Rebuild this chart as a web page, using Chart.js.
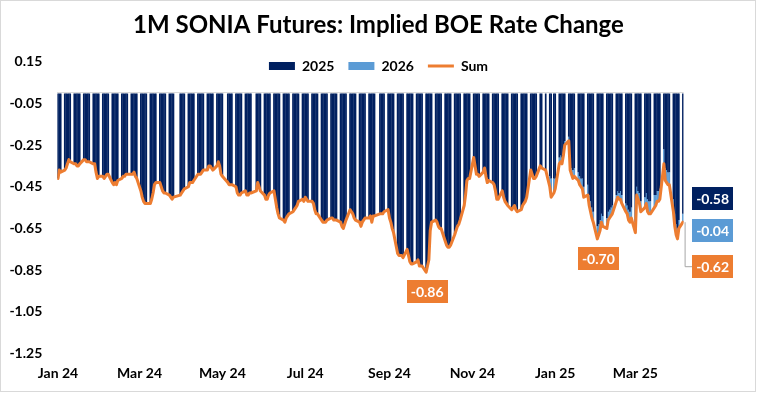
<!DOCTYPE html>
<html><head><meta charset="utf-8">
<script src="https://cdn.jsdelivr.net/npm/chart.js@4.4.1/dist/chart.umd.min.js"></script>
<style>html,body{margin:0;padding:0;background:#fff;}</style>
</head><body>
<canvas id="c" width="757" height="393"></canvas>
<script>
// ---------------- data ----------------
const chartTitle = '1M SONIA Futures: Implied BOE Rate Change';
const seriesNames = ['2025', '2026', 'Sum'];
const axisOrigin = '2024-01-01';
const firstTradingDay = '2024-01-03';
const lastTradingDay = '2025-04-07';
const holidays = ['2024-03-29','2024-04-01','2024-05-06','2024-05-27','2024-08-26','2024-12-25','2024-12-26','2025-01-01'];

// 2025 meetings contribution (one value per trading day)
const values2025 = [
  -0.41,-0.37,-0.38,
  -0.37,-0.36,-0.34,-0.32,-0.33,
  -0.34,-0.34,-0.35,-0.35,-0.34,
  -0.32,-0.32,-0.33,-0.33,-0.33,
  -0.34,-0.34,-0.38,-0.41,-0.40,
  -0.40,-0.41,-0.40,-0.39,-0.39,
  -0.43,-0.44,-0.43,-0.44,-0.42,
  -0.41,-0.40,-0.40,-0.39,-0.39,
  -0.39,-0.39,-0.38,-0.40,-0.41,
  -0.47,-0.50,-0.52,-0.53,-0.53,
  -0.53,-0.51,-0.48,-0.44,-0.43,
  -0.43,-0.45,-0.47,-0.48,-0.48,
  -0.49,-0.50,-0.51,-0.50,
  -0.49,-0.48,-0.47,-0.46,
  -0.45,-0.43,-0.43,-0.43,-0.42,
  -0.39,-0.39,-0.39,-0.38,-0.37,
  -0.37,-0.35,-0.35,-0.36,-0.37,
  -0.35,-0.33,-0.35,-0.39,-0.40,
  -0.43,-0.44,-0.44,-0.44,
  -0.45,-0.48,-0.49,-0.49,-0.48,
  -0.47,-0.49,-0.49,-0.48,-0.48,
  -0.47,-0.43,-0.45,-0.47,
  -0.49,-0.51,-0.51,-0.49,-0.48,
  -0.47,-0.51,-0.55,-0.58,-0.60,
  -0.61,-0.62,-0.60,-0.59,-0.58,
  -0.57,-0.56,-0.55,-0.54,-0.52,
  -0.51,-0.52,-0.50,-0.51,-0.52,
  -0.52,-0.53,-0.56,-0.58,-0.58,
  -0.61,-0.62,-0.62,-0.62,-0.61,
  -0.60,-0.60,-0.61,-0.61,-0.61,
  -0.62,-0.64,-0.65,-0.63,-0.61,
  -0.56,-0.57,-0.58,-0.60,-0.61,
  -0.62,-0.64,-0.62,-0.61,-0.60,
  -0.60,-0.59,-0.62,-0.59,-0.59,
  -0.58,-0.58,-0.58,-0.57,
  -0.56,-0.60,-0.62,-0.65,-0.67,
  -0.77,-0.78,-0.78,-0.78,-0.79,
  -0.75,-0.78,-0.81,-0.82,-0.82,
  -0.81,-0.80,-0.83,-0.83,-0.83,
  -0.86,-0.83,-0.80,-0.66,-0.62,
  -0.61,-0.62,-0.64,-0.65,-0.65,
  -0.71,-0.73,-0.74,-0.74,-0.73,
  -0.68,-0.66,-0.64,-0.63,-0.61,
  -0.54,-0.49,-0.42,-0.41,-0.41,
  -0.31,-0.35,-0.39,-0.39,-0.40,
  -0.38,-0.36,-0.40,-0.43,-0.42,
  -0.43,-0.44,-0.47,-0.51,-0.51,
  -0.47,-0.50,-0.52,-0.53,-0.54,
  -0.56,-0.55,-0.54,-0.56,-0.57,
  -0.56,-0.54,-0.53,-0.52,-0.50,
  -0.37,-0.39,-0.41,-0.41,-0.40,
  -0.35,-0.36,-0.37,
  -0.40,-0.41,-0.41,-0.41,
  -0.31,-0.30,-0.31,-0.27,-0.23,
  -0.21,-0.34,-0.36,-0.37,-0.36,
  -0.38,-0.40,-0.41,-0.41,-0.45,
  -0.44,-0.49,-0.52,-0.55,-0.57,
  -0.64,-0.63,-0.61,-0.58,-0.59,
  -0.60,-0.57,-0.56,-0.55,-0.54,
  -0.49,-0.47,-0.48,-0.47,-0.49,
  -0.53,-0.54,-0.56,-0.57,-0.55,
  -0.62,-0.45,-0.47,-0.48,-0.52,
  -0.50,-0.48,-0.51,-0.52,-0.52,
  -0.49,-0.49,-0.47,-0.47,-0.46,
  -0.27,-0.36,-0.37,-0.38,-0.38,
  -0.51,-0.58,-0.63,-0.65,-0.61,
  -0.58
];

// 2026 meetings contribution, starting on this trading day
const start2026 = '2024-12-30';
const values2026 = [
  -0.05,-0.09,-0.07,-0.05,
  -0.03,-0.03,-0.03,-0.03,-0.02,
  -0.02,-0.03,-0.03,-0.04,-0.04,
  -0.04,-0.04,-0.04,-0.05,-0.05,
  -0.05,-0.05,-0.05,-0.05,-0.05,
  -0.06,-0.05,-0.05,-0.04,-0.05,
  -0.05,-0.04,-0.04,-0.04,-0.04,
  -0.03,-0.03,-0.03,-0.04,-0.04,
  -0.04,-0.04,-0.05,-0.05,-0.05,
  -0.05,-0.04,-0.04,-0.05,-0.05,
  -0.05,-0.05,-0.06,-0.06,-0.06,
  -0.06,-0.05,-0.05,-0.05,-0.05,
  -0.07,-0.06,-0.06,-0.06,-0.06,
  -0.06,-0.06,-0.05,-0.05,-0.04,
  -0.04
];

const yTicks = [0.15, -0.05, -0.25, -0.45, -0.65, -0.85, -1.05, -1.25];
const xTickDates = ['2024-01-03','2024-03-03','2024-05-03','2024-07-03','2024-09-03','2024-11-03','2025-01-03','2025-03-03'];
const xTickLabels = ['Jan 24','Mar 24','May 24','Jul 24','Sep 24','Nov 24','Jan 25','Mar 25'];
const minLabelRanges = [['2024-09-01','2024-10-31'], ['2025-01-01','2025-02-28']];

// ---------------- helpers ----------------
const NAVY = '#002060', BLUE = '#5B9BD5', ORANGE = '#ED7D31';
const FONT = 'Lato';
function dayIndex(s) {
  const [y, m, d] = s.split('-').map(Number);
  const [y0, m0, d0] = axisOrigin.split('-').map(Number);
  return Math.round((Date.UTC(y, m - 1, d) - Date.UTC(y0, m0 - 1, d0)) / 86400000);
}
const holidaySet = new Set(holidays.map(dayIndex));
const tradingDays = [];
{
  const [y0, m0, d0] = axisOrigin.split('-').map(Number);
  const base = Date.UTC(y0, m0 - 1, d0);
  for (let t = dayIndex(firstTradingDay); t <= dayIndex(lastTradingDay); t++) {
    const dow = new Date(base + t * 86400000).getUTCDay();
    if (dow === 0 || dow === 6 || holidaySet.has(t)) continue;
    tradingDays.push(t);
  }
}
const off2026 = tradingDays.indexOf(dayIndex(start2026));
const data2025 = tradingDays.map((x, i) => ({ x, y: values2025[i] }));
const data2026 = values2026.map((v, i) => ({ x: tradingDays[off2026 + i], y: v }));
const dataSum = tradingDays.map((x, i) => {
  const j = i - off2026;
  const b = (j >= 0 && j < values2026.length) ? values2026[j] : 0;
  return { x, y: Math.round((values2025[i] + b) * 1000) / 1000 };
});
const xTickDays = xTickDates.map(dayIndex);

// ---------------- plugins ----------------
const framePlugin = {
  id: 'frame',
  beforeDraw(chart) {
    const ctx = chart.ctx;
    ctx.save();
    ctx.fillStyle = '#fff';
    ctx.fillRect(0, 0, chart.width, chart.height);
    ctx.strokeStyle = '#D9D9D9';
    ctx.lineWidth = 1;
    ctx.strokeRect(0.5, 0.5, chart.width - 2, chart.height - 2);
    ctx.restore();
  }
};
const legendShift = {
  id: 'legendShift',
  afterLayout(chart) {
    const lg = chart.legend;
    if (!lg) return;
    lg.top = 45; lg.bottom = 80; lg.height = 35;
  }
};
function labelBox(ctx, cx, cy, text, bg) {
  ctx.font = 'bold 14px ' + FONT;
  const w = 41, h = 23;
  ctx.fillStyle = bg;
  ctx.fillRect(Math.round(cx - w / 2), Math.round(cy - h / 2), w, h);
  ctx.fillStyle = '#fff';
  ctx.textAlign = 'center';
  ctx.textBaseline = 'middle';
  ctx.fillText(text, cx, cy + 1);
}
const labelsPlugin = {
  id: 'dataLabels',
  afterDatasetsDraw(chart) {
    const ctx = chart.ctx, xs = chart.scales.x, ys = chart.scales.y, area = chart.chartArea;
    ctx.save();
    minLabelRanges.forEach(([a, b]) => {
      const lo = dayIndex(a), hi = dayIndex(b);
      let best = null;
      dataSum.forEach(p => { if (p.x >= lo && p.x <= hi && (!best || p.y < best.y)) best = p; });
      if (best) {
        labelBox(ctx, xs.getPixelForValue(best.x) + 1, ys.getPixelForValue(best.y) + 19.5, best.y.toFixed(2), ORANGE);
      }
    });
    const last = dataSum[dataSum.length - 1];
    const lastSumY = ys.getPixelForValue(last.y);
    const bx = area.right + 29;
    const v25 = values2025[values2025.length - 1], v26 = values2026[values2026.length - 1];
    ctx.strokeStyle = '#A6A6A6';
    ctx.lineWidth = 1;
    ctx.beginPath();
    ctx.moveTo(area.right + 1.5, lastSumY);
    ctx.lineTo(area.right + 1.5, lastSumY + 44.5);
    ctx.lineTo(bx - 20, lastSumY + 44.5);
    ctx.stroke();
    labelBox(ctx, bx, lastSumY - 23.5, v25.toFixed(2), NAVY);
    labelBox(ctx, bx, lastSumY + 8, v26.toFixed(2), BLUE);
    labelBox(ctx, bx, lastSumY + 44, last.y.toFixed(2), ORANGE);
    ctx.restore();
  }
};

// ---------------- chart ----------------
new Chart(document.getElementById('c'), {
  type: 'bar',
  data: {
    datasets: [
      { label: seriesNames[0], data: data2025, backgroundColor: NAVY, borderWidth: 0,
        barPercentage: 1.25, categoryPercentage: 1, stack: 'bars', pointStyle: 'rect', order: 1 },
      { label: seriesNames[1], data: data2026, backgroundColor: BLUE, borderWidth: 0,
        barPercentage: 1.25, categoryPercentage: 1, stack: 'bars', pointStyle: 'rect', order: 1 },
      { type: 'line', label: seriesNames[2], data: dataSum, borderColor: ORANGE, backgroundColor: ORANGE,
        borderWidth: 3, pointRadius: 0, tension: 0, stack: 'sumLine', pointStyle: 'line', order: 0,
        borderJoinStyle: 'round', borderCapStyle: 'round' }
    ]
  },
  options: {
    responsive: false, animation: false, devicePixelRatio: 1,
    layout: { padding: { left: 0, right: 0, top: 0, bottom: 0 } },
    plugins: {
      title: { display: true, text: chartTitle, color: '#000',
        font: { family: FONT, size: 24, weight: 'bold' }, padding: { top: 10.6, bottom: 21.8 } },
      legend: { display: true, position: 'top', maxHeight: 0.5,
        labels: { usePointStyle: true, pointStyleWidth: 26, boxHeight: 8, padding: 14, color: '#000',
          font: { family: FONT, size: 14, weight: 'bold' },
          sort: (a, b) => a.datasetIndex - b.datasetIndex } },
      tooltip: { enabled: false }
    },
    scales: {
      x: { type: 'linear', min: 1.5, max: 462.5, stacked: true, offset: false,
        grid: { display: false, drawTicks: false }, border: { display: false },
        afterBuildTicks: s => { s.ticks = xTickDays.map(v => ({ value: v })); },
        afterFit: s => { s.height = 39.5; },
        ticks: { autoSkip: false, maxRotation: 0, padding: 12, color: '#000',
          font: { family: FONT, size: 14, weight: 'bold' },
          callback: v => { const i = xTickDays.indexOf(v); return i >= 0 ? xTickLabels[i] : ''; } } },
      y: { min: -1.25, max: 0.15, stacked: true,
        grid: { drawTicks: false, color: c => (c.tick && Math.abs(c.tick.value) < 1e-9) ? '#D9D9D9' : 'rgba(0,0,0,0)' },
        border: { display: false },
        afterBuildTicks: s => { s.ticks = yTicks.concat([0]).map(v => ({ value: v })); },
        afterFit: s => { s.width = 57.3; },
        ticks: { padding: 15, color: '#000', font: { family: FONT, size: 14, weight: 'bold' },
          callback: v => Math.abs(v) < 1e-9 ? '' : v.toFixed(2) } },
      yRight: { axis: 'y', position: 'right', min: -1.25, max: 0.15, display: true,
        grid: { display: false, drawTicks: false }, border: { display: false },
        ticks: { display: false },
        afterFit: s => { s.width = 73.4; } }
    }
  },
  plugins: [framePlugin, legendShift, labelsPlugin]
});
</script>
</body></html>
